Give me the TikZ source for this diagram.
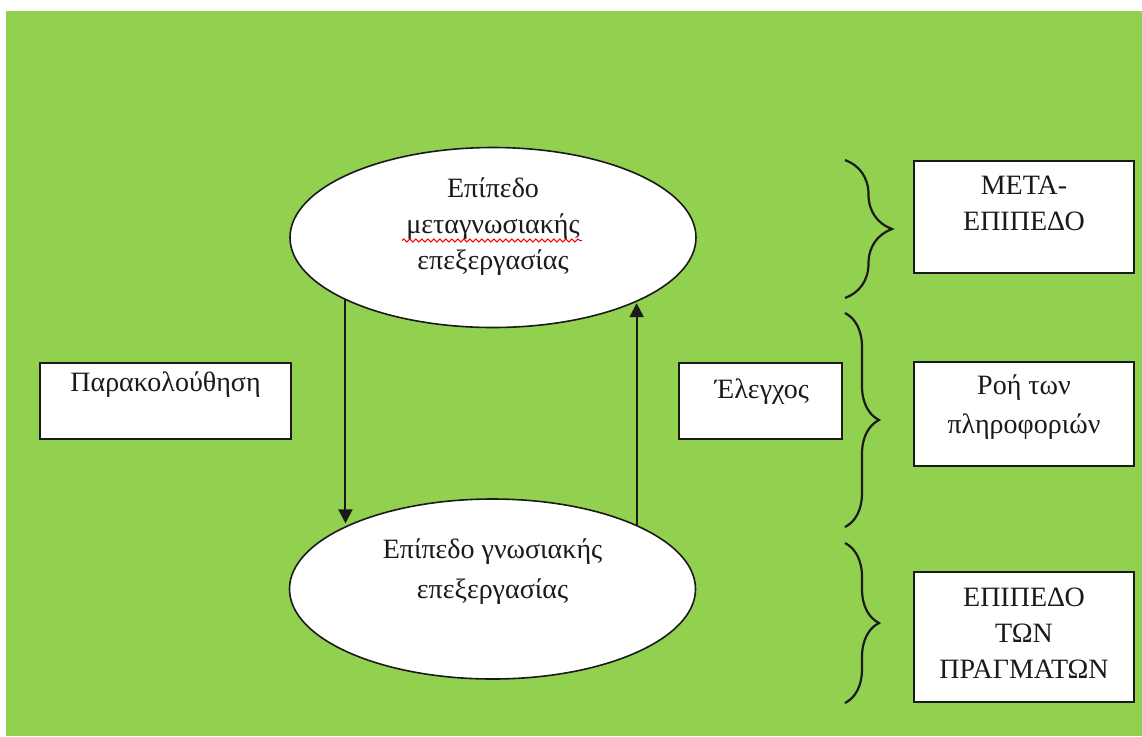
\documentclass[tikz,border=0pt]{standalone}
\usepackage{fontspec}
\setmainfont{Liberation Serif}
\usetikzlibrary{shapes.geometric,arrows.meta,decorations.pathreplacing,decorations.pathmorphing,calc}
\definecolor{leaf}{HTML}{92D050}
\definecolor{ink}{HTML}{1A1A1A}
\tikzset{
  level/.style={ellipse, draw=ink, line width=0.8pt, fill=white,
    minimum width=203pt, minimum height=90pt, inner sep=0pt},
  tag/.style={rectangle, draw=ink, line width=1pt, fill=white, inner sep=0pt},
  words/.style={font=\fontsize{14}{18}\selectfont, align=center, inner sep=0pt, text=ink},
  flow/.style={-{Triangle[length=7pt,width=7pt]}, line width=1pt, draw=ink},
  curly/.style={decorate, decoration={brace, amplitude=#1}, line width=1.1pt, draw=ink},
  squiggle/.style={decorate, decoration={snake, amplitude=0.8pt, segment length=3pt},
    draw=red, line width=0.5pt},
}
\begin{document}
\begin{tikzpicture}[x=0.5pt, y=-0.5pt]
\useasboundingbox (0,0) rectangle (1142,736);
\fill[leaf] (6,11) rectangle (1142,736);

% the two processing levels
\node[level] (top) at (493,237.5) {};
\node[level] (bot) at (492.5,589) {};
\node[words] (toptxt) at ($(top.center)+(0,-11)$) {Επίπεδο\\μεταγνωσιακής\\επεξεργασίας};
\node[words, font=\fontsize{14}{20}\selectfont] (bottxt) at ($(bot.center)+(0,-17)$) {Επίπεδο γνωσιακής\\επεξεργασίας};
\coordinate (sqa) at ($(top.center)+(-91,3)$);
\coordinate (sqb) at ($(top.center)+(89,3)$);
\draw[squiggle] (sqa) -- (sqb);

% monitoring (down) and control (up)
\draw[flow] (top.203.7) -- (top.203.7 |- bot.155.9);
\draw[flow] (bot.24.4) -- (bot.24.4 |- top.335.7);

% side labels
\node[tag, minimum width=125.5pt, minimum height=38pt] (par) at (165.5,401) {};
\node[words] (partxt) at ($(par.north)+(0,23)$) {Παρακολούθηση};
\node[tag, minimum width=81.5pt, minimum height=38pt] (ele) at (760.5,401) {};
\node[words] (eletxt) at ($(ele.north)+(1.5,29.5)$) {Έλεγχος};

% right column
\node[tag, minimum width=110pt, minimum height=56pt] (meta) at (1024,217) {};
\node[words] (metatxt) at ($(meta.north)+(0,43)$) {ΜΕΤΑ-\\ΕΠΙΠΕΔΟ};
\node[tag, minimum width=110pt, minimum height=52pt] (info) at (1024,414) {};
\node[words, font=\fontsize{14}{19.5}\selectfont] (infotxt) at ($(info.north)+(0,46)$) {Ροή των\\πληροφοριών};
\node[tag, minimum width=110pt, minimum height=65pt] (thing) at (1024,637) {};
\node[words] (thingtxt) at ($(thing.north)+(0,62.5)$) {ΕΠΙΠΕΔΟ\\ΤΩΝ\\ΠΡΑΓΜΑΤΩΝ};

% braces
\coordinate (b1a) at (845,160);
\coordinate (b1b) at (845,298);
\coordinate (b2a) at (845,313);
\coordinate (b2b) at (845,527);
\coordinate (b3a) at (845,543);
\coordinate (b3b) at (845,703);
\draw[curly=23.5pt] (b1a) -- (b1b);
\draw[curly=17pt] (b2a) -- (b2b);
\draw[curly=17pt] (b3a) -- (b3b);
\end{tikzpicture}
\end{document}
